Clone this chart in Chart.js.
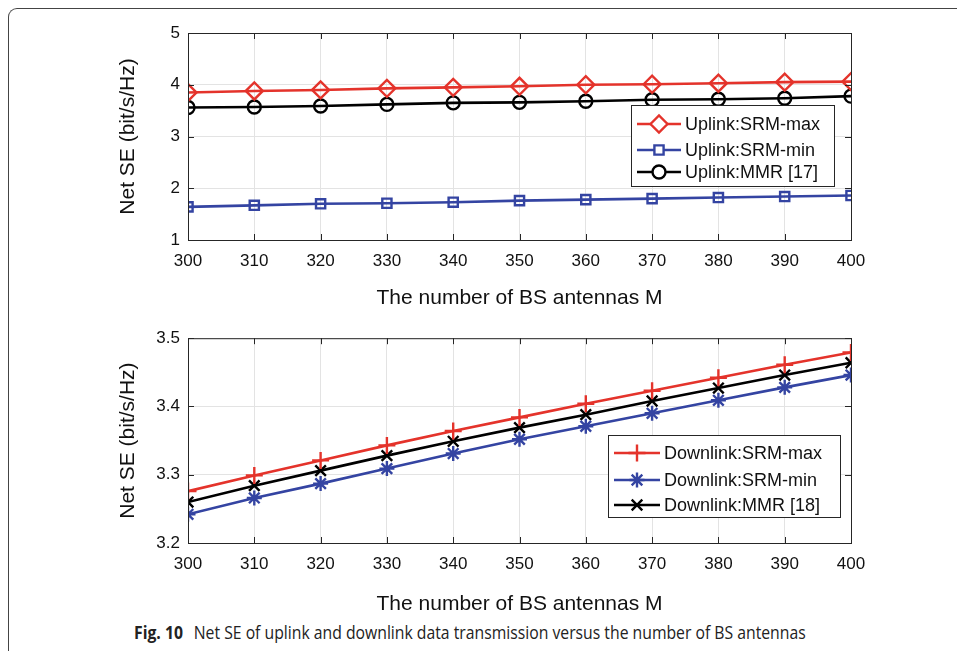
<!DOCTYPE html>
<html>
<head>
<meta charset="utf-8">
<script src="https://cdn.jsdelivr.net/npm/chart.js@4.4.1/dist/chart.umd.min.js"></script>
<style>
    body { margin: 0; background: #fff; width: 957px; height: 651px; overflow: hidden; position: relative; }
    .frame { position: absolute; left: 8px; top: 8px; width: 1000px; height: 700px; border-top: 1px solid #444; border-left: 1px solid #444; border-top-left-radius: 9px; }
    .plot { position: absolute; left: 0; }
    #caption { position: absolute; left: 134px; top: 620px; font-family: "Open Sans", "Noto Sans", sans-serif; font-size: 17.5px; color: #222; white-space: nowrap; transform: scaleX(0.9); transform-origin: left top; }
    #caption b { font-weight: 700; margin-right: 12px; }
</style>
</head>
<body>
<div class="frame"></div>
<div class="plot" style="top:0"><canvas id="upChart" width="957" height="312"></canvas></div>
<div class="plot" style="top:320px"><canvas id="downChart" width="957" height="298"></canvas></div>
<div id="caption"><b>Fig. 10</b>Net SE of uplink and downlink data transmission versus the number of BS antennas</div>

<script>
const antennas = [300, 310, 320, 330, 340, 350, 360, 370, 380, 390, 400];

const upSrmMax = [3.85, 3.88, 3.90, 3.93, 3.95, 3.97, 4.00, 4.01, 4.03, 4.05, 4.06];
const upSrmMin = [1.64, 1.67, 1.70, 1.71, 1.73, 1.76, 1.78, 1.80, 1.82, 1.84, 1.86];
const upMmr = [3.56, 3.57, 3.59, 3.62, 3.65, 3.66, 3.68, 3.71, 3.72, 3.74, 3.78];

const downSrmMax = [3.276, 3.299, 3.321, 3.343, 3.364, 3.384, 3.404, 3.423, 3.442, 3.461, 3.479];
const downSrmMin = [3.242, 3.266, 3.287, 3.309, 3.331, 3.352, 3.371, 3.390, 3.409, 3.428, 3.446];
const downMmr = [3.260, 3.284, 3.306, 3.328, 3.349, 3.369, 3.388, 3.408, 3.427, 3.446, 3.464];

const upLabels = ['Uplink:SRM-max', 'Uplink:SRM-min', 'Uplink:MMR [17]'];
const downLabels = ['Downlink:SRM-max', 'Downlink:SRM-min', 'Downlink:MMR [18]'];

const RED = '#e4332b';
const BLUE = '#3444a2';
const BLACK = '#000000';
const FONT = '"Liberation Sans", Arial, sans-serif';

function points(values) {
    return antennas.map((m, i) => ({ x: m, y: values[i] }));
}

function series(label, values, color, style, radius) {
    return {
        label: label,
        data: points(values),
        borderColor: color,
        backgroundColor: 'rgba(255,255,255,0)',
        borderWidth: 2.6,
        pointStyle: style,
        pointRadius: radius,
        pointBorderWidth: 2.4,
        pointBorderColor: color,
        pointBackgroundColor: 'rgba(255,255,255,0)',
        tension: 0
    };
}

// box around the plot with inward ticks, plus the legend inside the plot
const boxPlugin = {
    id: 'matlabBox',
    afterDraw(chart, args, opts) {
        const ctx = chart.ctx;
        const a = chart.chartArea;
        ctx.save();
        ctx.strokeStyle = '#262626';
        ctx.lineWidth = 1;
        ctx.strokeRect(a.left + 0.5, a.top + 0.5, a.right - a.left, a.bottom - a.top);
        const xs = chart.scales.x, ys = chart.scales.y;
        ctx.beginPath();
        xs.ticks.forEach(t => {
            const px = Math.round(xs.getPixelForValue(t.value)) + 0.5;
            ctx.moveTo(px, a.bottom); ctx.lineTo(px, a.bottom - 6);
            ctx.moveTo(px, a.top); ctx.lineTo(px, a.top + 6);
        });
        ys.ticks.forEach(t => {
            const py = Math.round(ys.getPixelForValue(t.value)) + 0.5;
            ctx.moveTo(a.left, py); ctx.lineTo(a.left + 6, py);
            ctx.moveTo(a.right, py); ctx.lineTo(a.right - 6, py);
        });
        ctx.stroke();

        // legend
        const L = opts.legend;
        ctx.fillStyle = '#fff';
        ctx.fillRect(L.x, L.y, L.w, L.h);
        ctx.strokeStyle = '#262626';
        ctx.strokeRect(L.x + 0.5, L.y + 0.5, L.w, L.h);
        ctx.font = '18px ' + FONT;
        ctx.textBaseline = 'middle';
        chart.data.datasets.forEach((ds, i) => {
            const y = L.y + L.rows[i];
            ctx.strokeStyle = ds.borderColor;
            ctx.lineWidth = ds.borderWidth;
            ctx.beginPath();
            ctx.moveTo(L.x + 6, y); ctx.lineTo(L.x + L.line, y);
            ctx.stroke();
            ctx.fillStyle = '#fff';
            ctx.strokeStyle = ds.borderColor;
            ctx.lineWidth = ds.pointBorderWidth;
            Chart.helpers.drawPoint(ctx, {
                pointStyle: ds.pointStyle,
                radius: ds.pointRadius,
                borderWidth: ds.pointBorderWidth,
                rotation: 0
            }, L.x + 6 + (L.line - 6) / 2, y);
            ctx.fillStyle = '#111';
            ctx.fillText(ds.label, L.x + L.line + 4, y + 1);
        });
        ctx.restore();
    }
};

function makeChart(id, datasets, yMin, yMax, yStep, area, legend) {
    const canvas = document.getElementById(id);
    return new Chart(canvas.getContext('2d'), {
        type: 'line',
        data: { datasets: datasets },
        plugins: [boxPlugin],
        options: {
            responsive: false,
            animation: false,
            layout: { padding: { top: area.top, right: 957 - area.right, left: 0, bottom: 0 } },
            plugins: {
                legend: { display: false },
                tooltip: { enabled: false },
                matlabBox: { legend: legend }
            },
            scales: {
                x: {
                    type: 'linear',
                    min: 300, max: 400,
                    ticks: { stepSize: 10, color: '#111', font: { family: FONT, size: 17 }, padding: 11, maxRotation: 0 },
                    grid: { color: '#e3e3e3', lineWidth: 1, drawTicks: false },
                    border: { display: false },
                    title: { display: true, text: 'The number of BS antennas M', color: '#111', font: { family: FONT, size: 21 }, padding: { top: 0, bottom: 1 } },
                    afterFit: s => { s.height = canvas.height - area.bottom; }
                },
                y: {
                    min: yMin, max: yMax,
                    ticks: { stepSize: yStep, color: '#111', font: { family: FONT, size: 17 }, padding: 8 },
                    grid: { color: '#e3e3e3', lineWidth: 1, drawTicks: false },
                    border: { display: false },
                    title: { display: true, text: 'Net SE (bit/s/Hz)', color: '#111', font: { family: FONT, size: 21 }, padding: { top: 116, bottom: 0 } },
                    afterFit: s => { s.width = area.left; }
                }
            }
        }
    });
}

makeChart('upChart', [
    series(upLabels[0], upSrmMax, RED, 'rectRot', 8.5),
    series(upLabels[1], upSrmMin, BLUE, 'rect', 6.5),
    series(upLabels[2], upMmr, BLACK, 'circle', 6.5)
], 1, 5, 1, { left: 188, right: 851, top: 33, bottom: 240 },
   { x: 631, y: 105, w: 203, h: 81, rows: [19, 45, 67], line: 50 });

makeChart('downChart', [
    series(downLabels[0], downSrmMax, RED, 'cross', 8.5),
    series(downLabels[1], downSrmMin, BLUE, 'star', 7.5),
    series(downLabels[2], downMmr, BLACK, 'crossRot', 7.5)
], 3.2, 3.5, 0.1, { left: 188, right: 851, top: 18, bottom: 223 },
   { x: 608, y: 115, w: 232, h: 82, rows: [18, 45, 70], line: 52 });
</script>
</body>
</html>
